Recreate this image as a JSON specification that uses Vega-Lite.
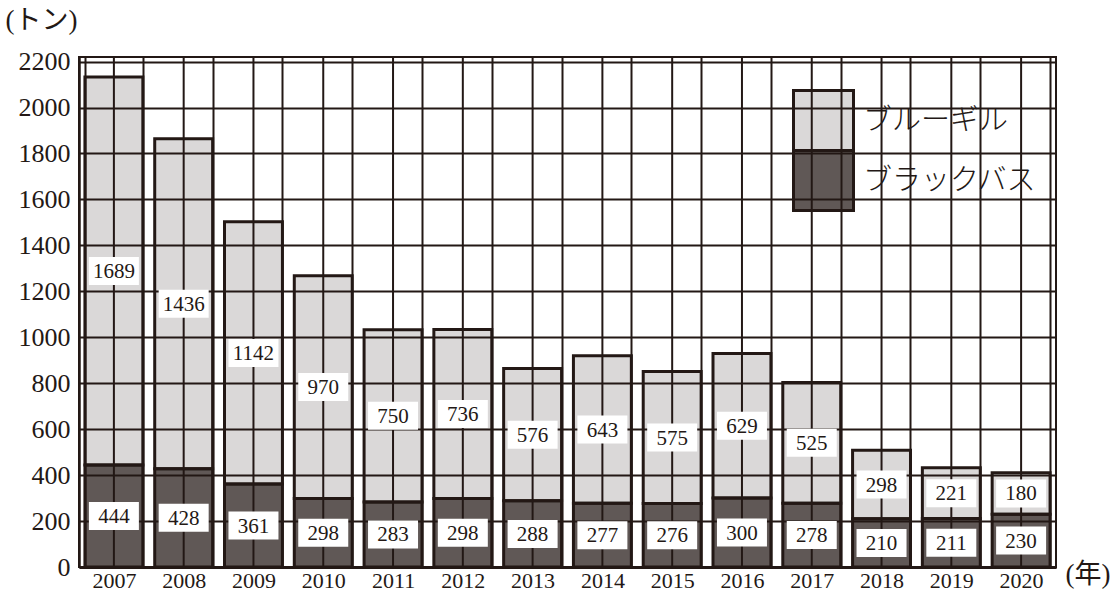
{
  "$schema": "https://vega.github.io/schema/vega-lite/v6.json",
  "autosize": {"type": "none"},
  "padding": {"left": 79, "top": 57, "right": 64, "bottom": 28},
  "width": 977,
  "height": 510,
  "background": "white",
  "config": {
    "view": {"stroke": "#231815", "strokeWidth": 2},
    "axis": {"labelColor": "#231815", "titleColor": "#231815"}
  },
  "data": {
    "values": [
      {"year": "2007", "species": "ブルーギル", "value": 1689},
      {"year": "2007", "species": "ブラックバス", "value": 444},
      {"year": "2008", "species": "ブルーギル", "value": 1436},
      {"year": "2008", "species": "ブラックバス", "value": 428},
      {"year": "2009", "species": "ブルーギル", "value": 1142},
      {"year": "2009", "species": "ブラックバス", "value": 361},
      {"year": "2010", "species": "ブルーギル", "value": 970},
      {"year": "2010", "species": "ブラックバス", "value": 298},
      {"year": "2011", "species": "ブルーギル", "value": 750},
      {"year": "2011", "species": "ブラックバス", "value": 283},
      {"year": "2012", "species": "ブルーギル", "value": 736},
      {"year": "2012", "species": "ブラックバス", "value": 298},
      {"year": "2013", "species": "ブルーギル", "value": 576},
      {"year": "2013", "species": "ブラックバス", "value": 288},
      {"year": "2014", "species": "ブルーギル", "value": 643},
      {"year": "2014", "species": "ブラックバス", "value": 277},
      {"year": "2015", "species": "ブルーギル", "value": 575},
      {"year": "2015", "species": "ブラックバス", "value": 276},
      {"year": "2016", "species": "ブルーギル", "value": 629},
      {"year": "2016", "species": "ブラックバス", "value": 300},
      {"year": "2017", "species": "ブルーギル", "value": 525},
      {"year": "2017", "species": "ブラックバス", "value": 278},
      {"year": "2018", "species": "ブルーギル", "value": 298},
      {"year": "2018", "species": "ブラックバス", "value": 210},
      {"year": "2019", "species": "ブルーギル", "value": 221},
      {"year": "2019", "species": "ブラックバス", "value": 211},
      {"year": "2020", "species": "ブルーギル", "value": 180},
      {"year": "2020", "species": "ブラックバス", "value": 230}
    ]
  },
  "encoding": {
    "x": {
      "field": "year",
      "type": "nominal",
      "scale": {"paddingInner": 0.17, "paddingOuter": 0.085},
      "axis": {
        "tickBand": "extent",
        "grid": true,
        "gridColor": "#231815",
        "gridWidth": 2,
        "gridOpacity": 1,
        "ticks": false,
        "domainColor": "#231815",
        "domainWidth": 3,
        "labelAngle": 0,
        "labelFont": "Liberation Serif",
        "labelFontSize": 22,
        "labelPadding": 3,
        "title": "(年)",
        "titleFont": "Liberation Serif, Noto Sans CJK JP",
        "titleFontSize": 27,
        "titleFontWeight": "normal",
        "titleAnchor": "start",
        "titleAlign": "left",
        "titleBaseline": "middle",
        "titleX": 986,
        "titleY": 7
      }
    }
  },
  "layer": [
    {
      "transform": [{"filter": "datum.species === 'ブルーギル'"}],
      "mark": {"type": "rule", "color": "#231815", "strokeWidth": 2},
      "encoding": {}
    },
    {
      "mark": {"type": "bar", "stroke": "#231815", "strokeWidth": 3},
      "encoding": {
        "y": {
          "field": "value",
          "type": "quantitative",
          "stack": "zero",
          "scale": {"domain": [0, 2220], "nice": false},
          "axis": {
            "values": [0, 200, 400, 600, 800, 1000, 1200, 1400, 1600, 1800, 2000, 2200],
            "format": "d",
            "grid": true,
            "gridColor": "#231815",
            "gridWidth": 2,
            "gridOpacity": 1,
            "ticks": false,
            "domainColor": "#231815",
            "domainWidth": 2.5,
            "labelFont": "Liberation Serif",
            "labelFontSize": 26,
            "labelPadding": 9,
            "title": "(トン)",
            "titleFont": "Liberation Serif, Noto Sans CJK JP",
            "titleFontSize": 27,
            "titleFontWeight": "normal",
            "titleAngle": 0,
            "titleAlign": "left",
            "titleBaseline": "middle",
            "titleX": -74,
            "titleY": -37
          }
        },
        "fill": {
          "field": "species",
          "type": "nominal",
          "scale": {
            "domain": ["ブルーギル", "ブラックバス"],
            "range": ["rgba(35,24,21,0.17)", "rgba(35,24,21,0.72)"]
          },
          "legend": {
            "orient": "none",
            "legendX": 713,
            "legendY": 32,
            "title": null,
            "padding": 0,
            "gridAlign": "none",
            "symbolType": "square",
            "symbolSize": 3600,
            "symbolStrokeColor": "#231815",
            "symbolStrokeWidth": 3,
            "labelFont": "Noto Sans CJK JP",
            "labelFontWeight": 300,
            "labelFontSize": 29,
            "labelColor": "#231815",
            "labelOffset": 8,
            "labelLimit": 300,
            "rowPadding": -13
          }
        },
        "order": {"field": "species", "sort": "ascending"}
      }
    },
    {
      "mark": {"type": "point", "shape": "M-1,-0.56H1V0.56H-1Z", "filled": true, "fill": "white", "opacity": 1, "strokeWidth": 0, "size": 2500},
      "encoding": {
        "y": {"field": "value", "type": "quantitative", "stack": "zero", "bandPosition": 0.5},
        "detail": {"field": "species"},
        "order": {"field": "species", "sort": "ascending"}
      }
    },
    {
      "mark": {"type": "text", "font": "Liberation Serif", "fontSize": 21, "color": "#231815", "baseline": "middle", "dy": 1},
      "encoding": {
        "y": {"field": "value", "type": "quantitative", "stack": "zero", "bandPosition": 0.5},
        "detail": {"field": "species"},
        "order": {"field": "species", "sort": "ascending"},
        "text": {"field": "value", "type": "quantitative"}
      }
    }
  ]
}
